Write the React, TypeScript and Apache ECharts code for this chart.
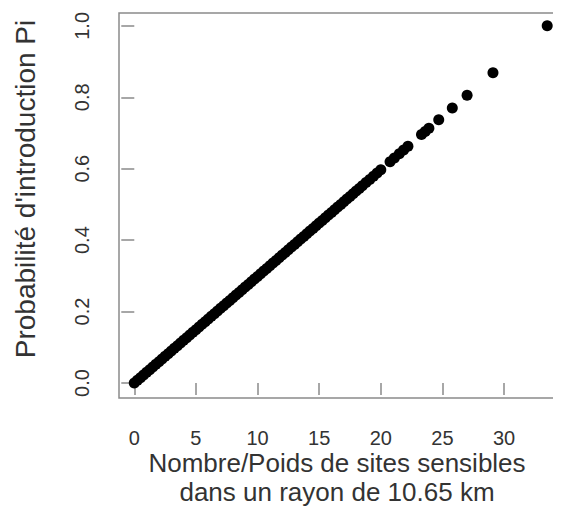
import React, { useEffect, useRef } from "react";
import * as echarts from "echarts";

const xValues = [
  0, 0.25, 0.5, 0.75, 1, 1.25, 1.5, 1.75, 2, 2.25, 2.5, 2.75, 3, 3.25, 3.5, 3.75,
  4, 4.25, 4.5, 4.75, 5, 5.25, 5.5, 5.75, 6, 6.25, 6.5, 6.75, 7, 7.25, 7.5, 7.75,
  8, 8.25, 8.5, 8.75, 9, 9.25, 9.5, 9.75, 10, 10.25, 10.5, 10.75, 11, 11.25, 11.5, 11.75,
  12, 12.25, 12.5, 12.75, 13, 13.25, 13.5, 13.75, 14, 14.25, 14.5, 14.75, 15, 15.25, 15.5, 15.75,
  16, 16.25, 16.5, 16.75, 17, 17.25, 17.5, 17.75, 18, 18.25, 18.5,
  18.8, 19.1, 19.4, 19.7, 20.0, 20.75, 21.1, 21.5, 21.85, 22.2,
  23.3, 23.6, 23.9, 24.7, 25.8, 27.0, 29.1, 33.5,
];
const yValues = [
  0, 0.0075, 0.0149, 0.0224, 0.0299, 0.0373, 0.0448, 0.0522, 0.0597, 0.0672, 0.0746, 0.0821, 0.0896, 0.097, 0.1045, 0.1119,
  0.1194, 0.1269, 0.1343, 0.1418, 0.1493, 0.1567, 0.1642, 0.1716, 0.1791, 0.1866, 0.194, 0.2015, 0.209, 0.2164, 0.2239, 0.2313,
  0.2388, 0.2463, 0.2537, 0.2612, 0.2687, 0.2761, 0.2836, 0.291, 0.2985, 0.306, 0.3134, 0.3209, 0.3284, 0.3358, 0.3433, 0.3507,
  0.3582, 0.3657, 0.3731, 0.3806, 0.3881, 0.3955, 0.403, 0.4104, 0.4179, 0.4254, 0.4328, 0.4403, 0.4478, 0.4552, 0.4627, 0.4701,
  0.4776, 0.4851, 0.4925, 0.5, 0.5075, 0.5149, 0.5224, 0.5299, 0.5373, 0.5448, 0.5522,
  0.5612, 0.5701, 0.5791, 0.5881, 0.597, 0.6194, 0.6299, 0.6418, 0.6522, 0.6627,
  0.6955, 0.7045, 0.7134, 0.7373, 0.7701, 0.806, 0.8687, 1.0,
];
const xTicks = [0, 5, 10, 15, 20, 25, 30];
const yTicks = [0, 0.2, 0.4, 0.6, 0.8, 1.0];
const xTitleLines = ["Nombre/Poids de sites sensibles", "dans un rayon de 10.65 km"];
const yTitle = "Probabilité d'introduction Pi";

export default function App() {
  const ref = useRef<HTMLDivElement>(null);
  useEffect(() => {
    if (!ref.current) return;
    const chart = echarts.init(ref.current, null, { renderer: "svg" });
    const font = "'Liberation Sans', Arial, Helvetica, sans-serif";
    const data = xValues.map((x, i) => [x, yValues[i]]);
    const titleStyle = {
      fontSize: 26,
      lineHeight: 24,
      fill: "#333",
      fontFamily: font,
      align: "center",
      verticalAlign: "middle",
    };
    chart.setOption({
      animation: false,
      backgroundColor: "#fff",
      grid: {
        left: 111,
        top: 5,
        width: 443,
        height: 385,
        show: true,
        borderColor: "#8a8a8a",
        borderWidth: 1.5,
        backgroundColor: "transparent",
        containLabel: false,
        outerBoundsMode: "none",
      },
      graphic: [
        {
          type: "text",
          x: 17,
          y: 181,
          rotation: Math.PI / 2,
          style: {
            text: yTitle,
            fontSize: 28,
            fill: "#333",
            fontFamily: font,
            align: "center",
            verticalAlign: "middle",
          },
        },
        {
          type: "text",
          x: 329,
          y: 455,
          style: { ...titleStyle, text: xTitleLines[0] },
        },
        {
          type: "text",
          x: 329,
          y: 484,
          style: { ...titleStyle, text: xTitleLines[1] },
        },
      ],
      xAxis: {
        type: "value",
        min: -1.24,
        max: 34.7,
        offset: 2,
        axisLine: { show: false },
        splitLine: { show: false },
        axisTick: {
          show: true,
          length: 12,
          customValues: xTicks,
          lineStyle: { color: "#8a8a8a", width: 1.5 },
        },
        axisLabel: {
          customValues: xTicks,
          margin: 28,
          fontSize: 20,
          color: "#333",
          fontFamily: font,
        },
      },
      yAxis: {
        type: "value",
        min: -0.042,
        max: 1.036,
        axisLine: { show: false },
        splitLine: { show: false },
        axisTick: {
          show: true,
          length: 13,
          customValues: yTicks,
          lineStyle: { color: "#8a8a8a", width: 1.5 },
        },
        axisLabel: {
          customValues: yTicks,
          rotate: 90,
          margin: 27,
          fontSize: 20,
          color: "#333",
          fontFamily: font,
          formatter: (v: number) => v.toFixed(1),
        },
      },
      series: [
        {
          type: "scatter",
          data,
          symbol: "circle",
          symbolSize: 11,
          itemStyle: { color: "#000", opacity: 1 },
          silent: true,
        },
      ],
    });
    return () => chart.dispose();
  }, []);
  return <div ref={ref} style={{ width: 553, height: 498 }} />;
}
